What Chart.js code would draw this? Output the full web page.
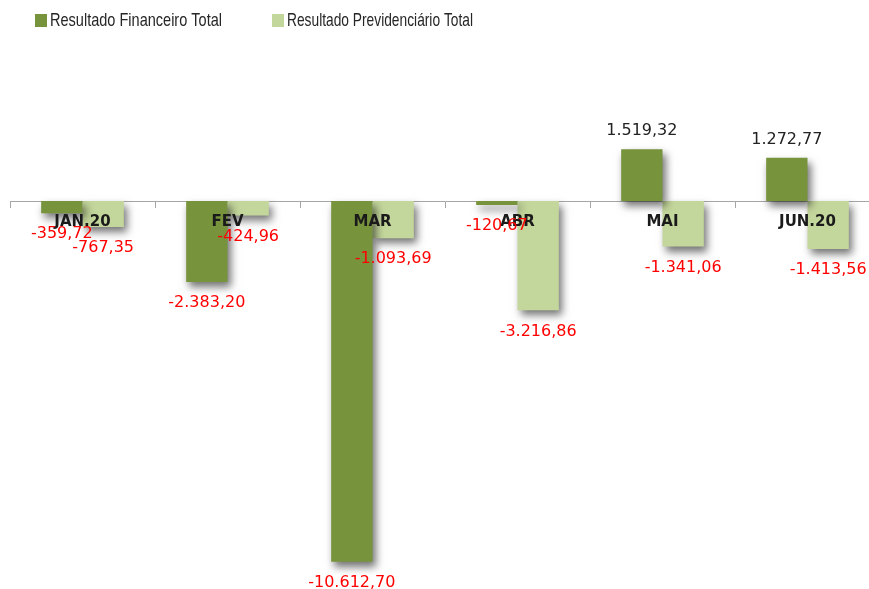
<!DOCTYPE html>
<html>
<head>
<meta charset="utf-8">
<script src="https://cdn.jsdelivr.net/npm/chart.js@4.4.1/dist/chart.umd.min.js"></script>
<style>
  html, body { margin: 0; padding: 0; background: #fff; overflow: hidden; }
  #wrap { width: 890px; height: 589px; position: relative; }
</style>
</head>
<body>
<div id="wrap"><canvas id="grafico"></canvas></div>
<script>
// Dados do gráfico
const meses = ["JAN.20", "FEV", "MAR", "ABR", "MAI", "JUN.20"];
const resultadoFinanceiro = [-359.72, -2383.20, -10612.70, -120.67, 1519.32, 1272.77];
const resultadoPrevidenciario = [-767.35, -424.96, -1093.69, -3216.86, -1341.06, -1413.56];
const nomesSeries = ["Resultado Financeiro Total", "Resultado Previdenciário Total"];
const cores = ["#77933C", "#C3D69B"];

// formato brasileiro 1.519,32
function formatar(v) {
  const partes = Math.abs(v).toFixed(2).split(".");
  const inteiro = partes[0].replace(/\B(?=(\d{3})+(?!\d))/g, ".");
  return (v < 0 ? "-" : "") + inteiro + "," + partes[1];
}

// sombra das barras (estilo Excel)
const sombra = {
  id: "sombra",
  beforeDatasetsDraw(chart) {
    const ctx = chart.ctx;
    ctx.save();
    ctx.shadowColor = "rgba(0,0,0,0.55)";
    ctx.shadowBlur = 8;
    ctx.shadowOffsetX = 3;
    ctx.shadowOffsetY = 5;
  },
  afterDatasetsDraw(chart) {
    chart.ctx.restore();
  }
};

// nomes dos meses por cima das barras + rótulos de valores
const rotulos = {
  id: "rotulos",
  afterDraw(chart) {
    const ctx = chart.ctx;
    const eixoX = chart.scales.x;
    const zero = chart.scales.y.getPixelForValue(0);
    ctx.save();
    ctx.textAlign = "center";
    ctx.textBaseline = "middle";

    ctx.font = "bold 15px 'DejaVu Sans'";
    ctx.fillStyle = "#1a1a1a";
    meses.forEach(function(m, j) {
      ctx.fillText(m, eixoX.getPixelForTick(j), zero + 21);
    });

    ctx.font = "16px 'DejaVu Sans'";
    chart.data.datasets.forEach(function(ds, i) {
      const meta = chart.getDatasetMeta(i);
      meta.data.forEach(function(bar, j) {
        const v = ds.data[j];
        ctx.fillStyle = v < 0 ? "#ff0000" : "#222222";
        const y = v < 0 ? bar.y + 21 : bar.y - 18;
        ctx.fillText(formatar(v), bar.x, y);
      });
    });
    ctx.restore();
  }
};

// legenda
const legenda = {
  id: "legenda",
  afterDraw(chart) {
    const ctx = chart.ctx;
    const itens = [
      { x: 35, largura: 172 },
      { x: 272, largura: 186 }
    ];
    ctx.save();
    ctx.font = "19px 'Liberation Sans'";
    ctx.textBaseline = "middle";
    itens.forEach(function(it, i) {
      ctx.fillStyle = cores[i];
      ctx.fillRect(it.x, 14, 12, 13);
      ctx.fillStyle = "#262626";
      ctx.fillText(nomesSeries[i], it.x + 15, 21, it.largura);
    });
    ctx.restore();
  }
};

const dados = {
  labels: meses,
  datasets: [
    {
      label: nomesSeries[0],
      data: resultadoFinanceiro,
      backgroundColor: cores[0],
      categoryPercentage: 0.57,
      barPercentage: 1.0
    },
    {
      label: nomesSeries[1],
      data: resultadoPrevidenciario,
      backgroundColor: cores[1],
      categoryPercentage: 0.57,
      barPercentage: 1.0
    }
  ]
};

const config = {
  type: "bar",
  data: dados,
  options: {
    responsive: false,
    animation: false,
    layout: { padding: { top: 65, bottom: 14, left: 10, right: 10 } },
    plugins: {
      legend: { display: false },
      tooltip: { enabled: false }
    },
    scales: {
      x: {
        position: { y: 0 },
        grid: {
          offset: true,
          drawOnChartArea: false,
          drawTicks: true,
          tickLength: 6,
          color: "#a6a6a6"
        },
        border: { color: "#a6a6a6", width: 1 },
        ticks: {
          color: "rgba(0,0,0,0)",
          font: { family: "'DejaVu Sans'", size: 14, weight: "bold" },
          padding: 4
        }
      },
      y: {
        display: false,
        min: -11000,
        max: 4000
      }
    }
  },
  plugins: [sombra, rotulos, legenda]
};

const canvas = document.getElementById("grafico");
canvas.width = 890;
canvas.height = 589;
var meuGrafico = new Chart(canvas, config);
</script>
</body>
</html>
